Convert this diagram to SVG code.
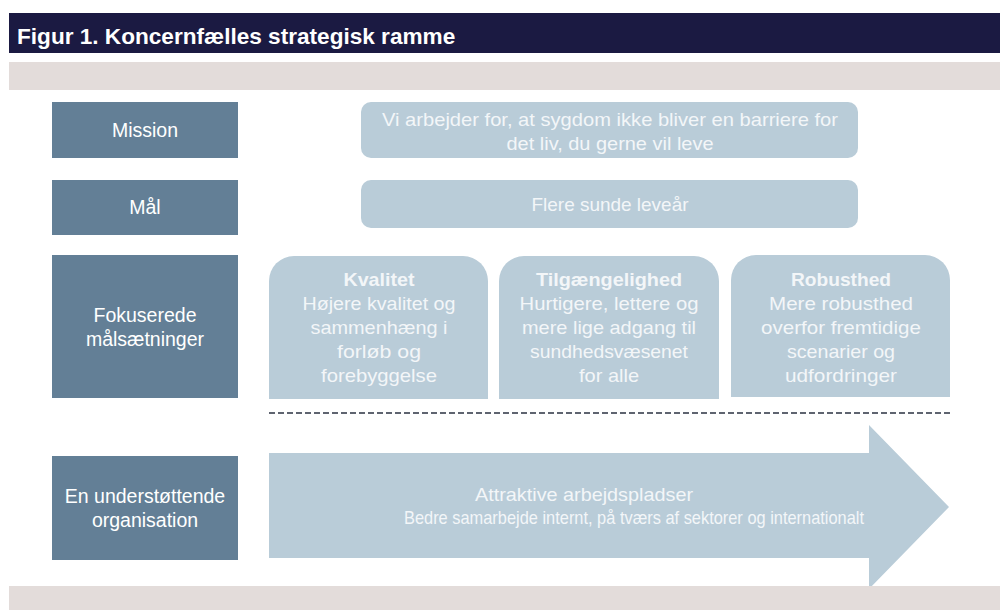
<svg xmlns="http://www.w3.org/2000/svg" width="1000" height="610" viewBox="0 0 1000 610">
<style>
.dark{fill:#637f96}
.light{fill:#b9ccd8}
.t{font-family:"Liberation Sans",Arial,sans-serif;font-size:19.5px;fill:#ffffff;text-anchor:middle}
.tl{font-family:"Liberation Sans",Arial,sans-serif;font-size:19px;fill:#f3f6f8;text-anchor:middle}
.b{font-weight:bold}
.title{font-family:"Liberation Sans",Arial,sans-serif;font-size:22.6px;font-weight:bold;fill:#ffffff}
</style>
<rect x="0" y="0" width="1000" height="610" fill="#ffffff"/>
<g id="header">
<rect x="9" y="13" width="991" height="40" fill="#1b1a42"/>
<text class="title" x="17" y="44">Figur 1. Koncernfælles strategisk ramme</text>
</g>
<rect id="band-top" x="9" y="62" width="991" height="28" fill="#e3dcda"/>
<g id="mission-label">
<rect class="dark" x="52" y="102" width="186" height="56"/>
<text class="t" x="145" y="137">Mission</text>
</g>
<g id="mission-text">
<rect class="light" x="361" y="102" width="497" height="56" rx="10"/>
<text class="tl" x="610" y="126" textLength="456" lengthAdjust="spacingAndGlyphs">Vi arbejder for, at sygdom ikke bliver en barriere for</text>
<text class="tl" x="610" y="150" textLength="207" lengthAdjust="spacingAndGlyphs">det liv, du gerne vil leve</text>
</g>
<g id="maal-label">
<rect class="dark" x="52" y="180" width="186" height="55"/>
<text class="t" x="145" y="214">Mål</text>
</g>
<g id="maal-text">
<rect class="light" x="361" y="180" width="497" height="48" rx="10"/>
<text class="tl" x="610" y="211" textLength="157" lengthAdjust="spacingAndGlyphs">Flere sunde leveår</text>
</g>
<g id="fokus-label">
<rect class="dark" x="52" y="255" width="186" height="143"/>
<text class="t" x="145" y="322">Fokuserede</text>
<text class="t" x="145" y="346">målsætninger</text>
</g>
<g id="kvalitet">
<path class="light" d="M269,399 V281 A25,25 0 0 1 294,256 H463 A25,25 0 0 1 488,281 V399 Z"/>
<text class="tl b" x="379" y="286" textLength="71" lengthAdjust="spacingAndGlyphs">Kvalitet</text>
<text class="tl" x="379" y="310" textLength="153" lengthAdjust="spacingAndGlyphs">Højere kvalitet og</text>
<text class="tl" x="379" y="334" textLength="137" lengthAdjust="spacingAndGlyphs">sammenhæng i</text>
<text class="tl" x="379" y="358" textLength="84" lengthAdjust="spacingAndGlyphs">forløb og</text>
<text class="tl" x="379" y="382" textLength="116" lengthAdjust="spacingAndGlyphs">forebyggelse</text>
</g>
<g id="tilgaengelighed">
<path class="light" d="M499,399 V281 A25,25 0 0 1 524,256 H694 A25,25 0 0 1 719,281 V399 Z"/>
<text class="tl b" x="609" y="286" textLength="146" lengthAdjust="spacingAndGlyphs">Tilgængelighed</text>
<text class="tl" x="609" y="310" textLength="179" lengthAdjust="spacingAndGlyphs">Hurtigere, lettere og</text>
<text class="tl" x="609" y="334" textLength="174" lengthAdjust="spacingAndGlyphs">mere lige adgang til</text>
<text class="tl" x="609" y="358" textLength="158" lengthAdjust="spacingAndGlyphs">sundhedsvæsenet</text>
<text class="tl" x="609" y="382" textLength="60" lengthAdjust="spacingAndGlyphs">for alle</text>
</g>
<g id="robusthed">
<path class="light" d="M731,397 V280 A25,25 0 0 1 756,255 H925 A25,25 0 0 1 950,280 V397 Z"/>
<text class="tl b" x="841" y="286" textLength="100" lengthAdjust="spacingAndGlyphs">Robusthed</text>
<text class="tl" x="841" y="310" textLength="144" lengthAdjust="spacingAndGlyphs">Mere robusthed</text>
<text class="tl" x="841" y="334" textLength="160" lengthAdjust="spacingAndGlyphs">overfor fremtidige</text>
<text class="tl" x="841" y="358" textLength="108" lengthAdjust="spacingAndGlyphs">scenarier og</text>
<text class="tl" x="841" y="382" textLength="112" lengthAdjust="spacingAndGlyphs">udfordringer</text>
</g>
<g id="connectors">
<line x1="269" y1="413" x2="950" y2="413" stroke="#5f6470" stroke-width="2" stroke-dasharray="6,3"/>
</g>
<g id="arrow">
<polygon class="light" points="269,453 869,453 869,425 949,507 869,589 869,558 269,558"/>
<text class="tl" x="584" y="501" textLength="218" lengthAdjust="spacingAndGlyphs">Attraktive arbejdspladser</text>
<text class="tl" x="634" y="524" textLength="460" lengthAdjust="spacingAndGlyphs">Bedre samarbejde internt, på tværs af sektorer og internationalt</text>
</g>
<g id="org-label">
<rect class="dark" x="52" y="456" width="186" height="104"/>
<text class="t" x="145" y="503">En understøttende</text>
<text class="t" x="145" y="527">organisation</text>
</g>
<rect id="band-bottom" x="9" y="586" width="991" height="24" fill="#e3dcda"/>
</svg>
